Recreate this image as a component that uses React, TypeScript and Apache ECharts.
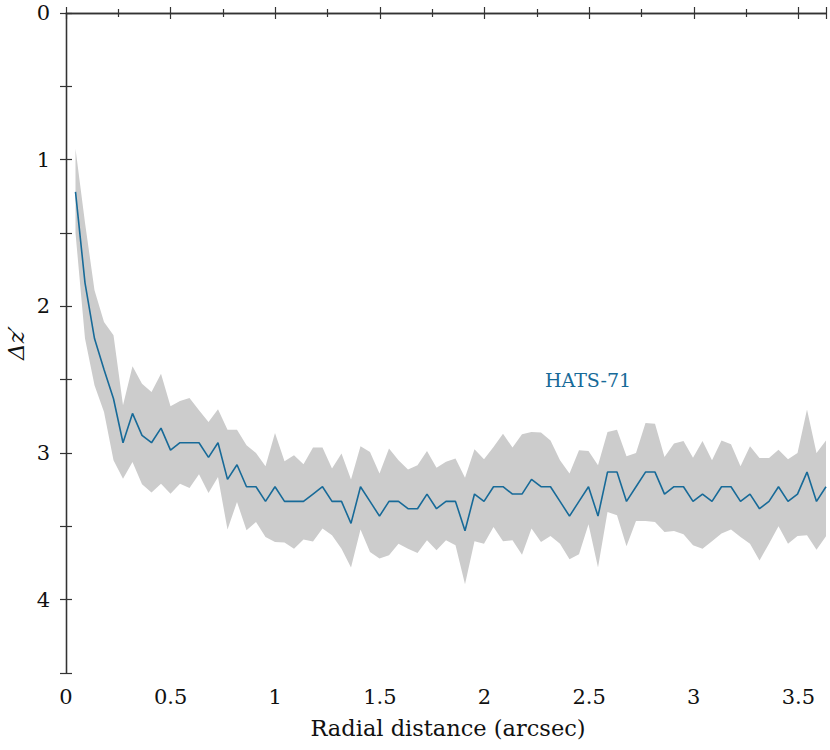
import React, { useEffect, useRef } from "react";
import * as echarts from "echarts";

// Radial sampling step (arcsec) of the contrast curve
const RADIUS_STEP = 0.0454;
const X_MAX = 3.632;

// Magnitude contrast Δz' (line)
const deltaZ = [
  1.22, 1.84, 2.22, 2.43, 2.63, 2.93, 2.73, 2.88, 2.93, 2.83,
  2.98, 2.93, 2.93, 2.93, 3.03, 2.93, 3.18, 3.08, 3.23, 3.23,
  3.33, 3.23, 3.33, 3.33, 3.33, 3.28, 3.23, 3.33, 3.33, 3.48,
  3.23, 3.33, 3.43, 3.33, 3.33, 3.38, 3.38, 3.28, 3.38, 3.33,
  3.33, 3.53, 3.28, 3.33, 3.23, 3.23, 3.28, 3.28, 3.18, 3.23,
  3.23, 3.33, 3.43, 3.33, 3.23, 3.43, 3.13, 3.13, 3.33, 3.23,
  3.13, 3.13, 3.28, 3.23, 3.23, 3.33, 3.28, 3.33, 3.23, 3.23,
  3.33, 3.28, 3.38, 3.33, 3.23, 3.33, 3.28, 3.13, 3.33, 3.23,
];

// Upper edge of the grey band (smaller Δz')
const bandUpper = [
  0.925, 1.43, 1.89, 2.107, 2.198, 2.675, 2.409, 2.527, 2.584, 2.459,
  2.682, 2.645, 2.625, 2.709, 2.789, 2.702, 2.841, 2.841, 2.947, 3.0,
  3.091, 2.864, 3.057, 3.016, 3.077, 2.963, 2.963, 3.106, 3.004, 3.181,
  2.954, 2.993, 3.14, 2.97, 3.05, 3.113, 3.084, 2.986, 3.1, 3.06,
  3.038, 3.168, 2.975, 3.043, 2.959, 2.868, 2.963, 2.873, 2.857, 2.86,
  2.914, 3.05, 3.14, 2.982, 2.986, 3.084, 2.857, 2.841, 3.023, 3.0,
  2.795, 2.8, 3.027, 2.936, 2.918, 3.032, 2.918, 3.05, 2.914, 2.941,
  3.091, 2.954, 3.034, 3.034, 2.977, 3.043, 3.0, 2.704, 3.0, 2.914,
];

// Lower edge of the grey band (larger Δz')
const bandLower = [
  1.5, 2.22, 2.538, 2.72, 3.05, 3.175, 3.061, 3.213, 3.27, 3.209,
  3.277, 3.209, 3.238, 3.145, 3.273, 3.164, 3.522, 3.334, 3.527, 3.47,
  3.572, 3.607, 3.611, 3.652, 3.59, 3.604, 3.515, 3.561, 3.652, 3.781,
  3.522, 3.675, 3.72, 3.697, 3.618, 3.652, 3.681, 3.595, 3.663, 3.595,
  3.629, 3.895, 3.602, 3.618, 3.504, 3.602, 3.595, 3.693, 3.515, 3.607,
  3.566, 3.618, 3.725, 3.69, 3.486, 3.781, 3.402, 3.425, 3.636, 3.463,
  3.463, 3.47, 3.538, 3.531, 3.554, 3.629, 3.652, 3.602, 3.549, 3.522,
  3.572, 3.618, 3.733, 3.618, 3.499, 3.618, 3.566, 3.561, 3.659, 3.568,
];

// Tick labels
const xTicks = [0, 0.5, 1, 1.5, 2, 2.5, 3, 3.5];
const yTicks = [0, 1, 2, 3, 4];

const TARGET_NAME = "HATS-71";
const X_TITLE = "Radial distance (arcsec)";
const Y_TITLE = "Δz′";

const FONT = "'DejaVu Serif'";
const LINE_COLOR = "#176a98";
const AXIS_COLOR = "#333333";
const TEXT_COLOR = "#111111";

export default function App() {
  const ref = useRef<HTMLDivElement>(null);

  useEffect(() => {
    if (!ref.current) return;
    const chart = echarts.init(ref.current, undefined, { renderer: "svg" });

    const radius = deltaZ.map((_, i) => +((i + 1) * RADIUS_STEP).toFixed(4));
    const lineData = radius.map((r, i) => [r, deltaZ[i]]);

    const axisLine = { show: true, lineStyle: { color: AXIS_COLOR, width: 1.3 } };

    const xCommon = {
      type: "value" as const,
      min: 0,
      max: X_MAX,
      interval: 0.5,
      splitLine: { show: false },
      axisLine,
      axisLabel: { show: false },
      axisTick: { show: true, inside: true, length: 6, lineStyle: { color: AXIS_COLOR, width: 1.2 } },
      minorTick: { show: true, splitNumber: 2, length: 4, lineStyle: { color: AXIS_COLOR, width: 1.2 } },
    };
    const yCommon = {
      type: "value" as const,
      inverse: true,
      min: 0,
      max: 4.5,
      interval: 0.5,
      splitLine: { show: false },
      axisLine,
      axisLabel: { show: false },
      axisTick: { show: true, inside: true, length: 6, lineStyle: { color: AXIS_COLOR, width: 1.2 } },
    };

    chart.setOption({
      animation: false,
      backgroundColor: "#ffffff",
      grid: { left: 66, right: 4, top: 13, bottom: 77, containLabel: false },
      xAxis: [
        { ...xCommon, position: "bottom" },
        { ...xCommon, position: "top" },
      ],
      yAxis: [
        { ...yCommon, position: "left" },
        { ...yCommon, position: "right" },
      ],
      series: [
        {
          type: "custom",
          data: [[0]],
          silent: true,
          z: 1,
          clip: true,
          renderItem: (_params: any, api: any) => {
            const pts: number[][] = [];
            for (let i = 0; i < radius.length; i++) pts.push(api.coord([radius[i], bandUpper[i]]));
            for (let i = radius.length - 1; i >= 0; i--) pts.push(api.coord([radius[i], bandLower[i]]));
            return {
              type: "polygon",
              shape: { points: pts },
              style: { fill: "#cccccc", stroke: "none" },
            };
          },
        },
        {
          type: "line",
          data: lineData,
          symbol: "none",
          lineStyle: { color: LINE_COLOR, width: 1.6 },
          z: 3,
        },
      ],
    });

    const xPix = (v: number) => chart.convertToPixel({ xAxisIndex: 0 }, v) as number;
    const yPix = (v: number) => chart.convertToPixel({ yAxisIndex: 0 }, v) as number;
    const bottomY = yPix(4.5);
    const leftX = xPix(0);

    const graphics: any[] = [];
    xTicks.forEach((t) => {
      graphics.push({
        type: "text",
        x: xPix(t),
        y: bottomY + 24,
        style: { text: String(t), font: `21px ${FONT}`, fill: TEXT_COLOR, align: "center", verticalAlign: "middle" },
      });
    });
    yTicks.forEach((t) => {
      graphics.push({
        type: "text",
        x: leftX - 16,
        y: yPix(t),
        style: { text: String(t), font: `21px ${FONT}`, fill: TEXT_COLOR, align: "right", verticalAlign: "middle" },
      });
    });
    graphics.push({
      type: "text",
      x: (xPix(0) + xPix(X_MAX)) / 2 + 2,
      y: bottomY + 55,
      style: { text: X_TITLE, font: `22.5px ${FONT}`, fill: TEXT_COLOR, align: "center", verticalAlign: "middle" },
    });
    graphics.push({
      type: "text",
      x: 16,
      y: 343,
      rotation: Math.PI / 2,
      style: {
        text: Y_TITLE,
        font: `italic 23px ${FONT}`,
        fill: TEXT_COLOR,
        align: "center",
        verticalAlign: "middle",
      },
    });
    graphics.push({
      type: "text",
      x: 588,
      y: 380,
      style: {
        text: TARGET_NAME,
        font: `19px ${FONT}`,
        fill: LINE_COLOR,
        align: "center",
        verticalAlign: "middle",
      },
    });
    chart.setOption({ graphic: graphics });

    return () => chart.dispose();
  }, []);

  return (
    <div
      ref={ref}
      style={{ position: "fixed", left: 0, top: 0, width: 830, height: 750 }}
    />
  );
}
